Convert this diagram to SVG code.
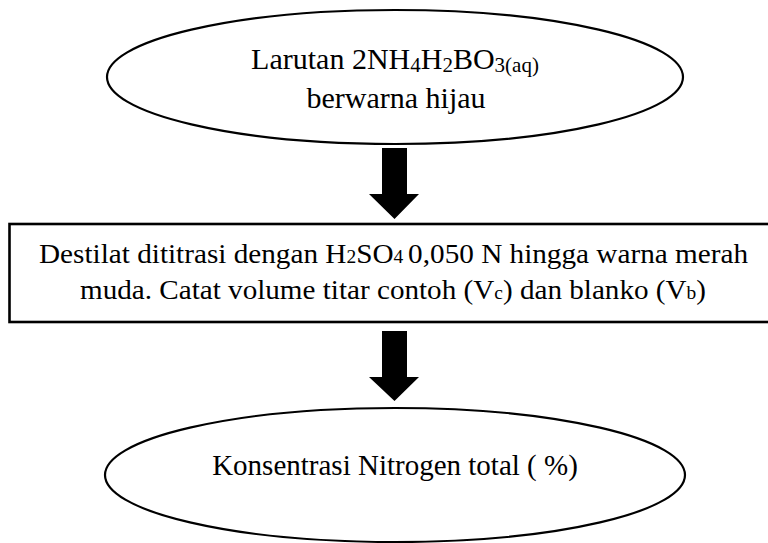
<svg xmlns="http://www.w3.org/2000/svg" width="768" height="543" viewBox="0 0 768 543">
  <style>
    .shape { fill: #ffffff; stroke: #000000; stroke-width: 2.2; }
    .box { fill: #ffffff; stroke: #000000; stroke-width: 2.6; }
    .label { font-family: "Liberation Serif", "Times New Roman", serif; fill: #000000; }
    .arrow { fill: #000000; stroke: none; }
  </style>
  <rect x="0" y="0" width="768" height="543" fill="#ffffff"/>

  <!-- connectors: block arrows between the steps -->
  <g id="connectors">
    <polygon class="arrow" points="382,148 407,148 407,194 419,194 394.5,219 369,194 382,194"/>
    <polygon class="arrow" points="382,331 407,331 407,377 419,377 394.5,401 369,377 382,377"/>
  </g>

  <!-- start: ammonium borate solution -->
  <g id="node-larutan">
    <ellipse class="shape" cx="395" cy="77" rx="288" ry="67"/>
    <text class="label" x="395" y="69" font-size="30" text-anchor="middle">Larutan 2NH<tspan font-size="21" dy="3">4</tspan><tspan dy="-3">H</tspan><tspan font-size="21" dy="3">2</tspan><tspan dy="-3">BO</tspan><tspan font-size="21" dy="3">3(aq)</tspan></text>
    <text class="label" x="396" y="108" font-size="30" text-anchor="middle">berwarna hijau</text>
  </g>

  <!-- titration step -->
  <g id="node-titrasi">
    <rect class="box" x="9.5" y="224" width="762" height="98"/>
    <text class="label" x="39" y="263" font-size="27" textLength="709" lengthAdjust="spacingAndGlyphs">Destilat dititrasi dengan H<tspan font-size="18">2</tspan>SO<tspan font-size="18">4 </tspan>0,050 N hingga warna merah</text>
    <text class="label" x="80" y="299" font-size="27" textLength="626" lengthAdjust="spacingAndGlyphs">muda. Catat volume titar contoh (V<tspan font-size="18">c</tspan>) dan blanko (V<tspan font-size="18">b</tspan>)</text>
  </g>

  <!-- result -->
  <g id="node-konsentrasi">
    <ellipse class="shape" cx="395" cy="475" rx="290" ry="67"/>
    <text class="label" x="395" y="475" font-size="29" text-anchor="middle">Konsentrasi Nitrogen total ( %)</text>
  </g>
</svg>
